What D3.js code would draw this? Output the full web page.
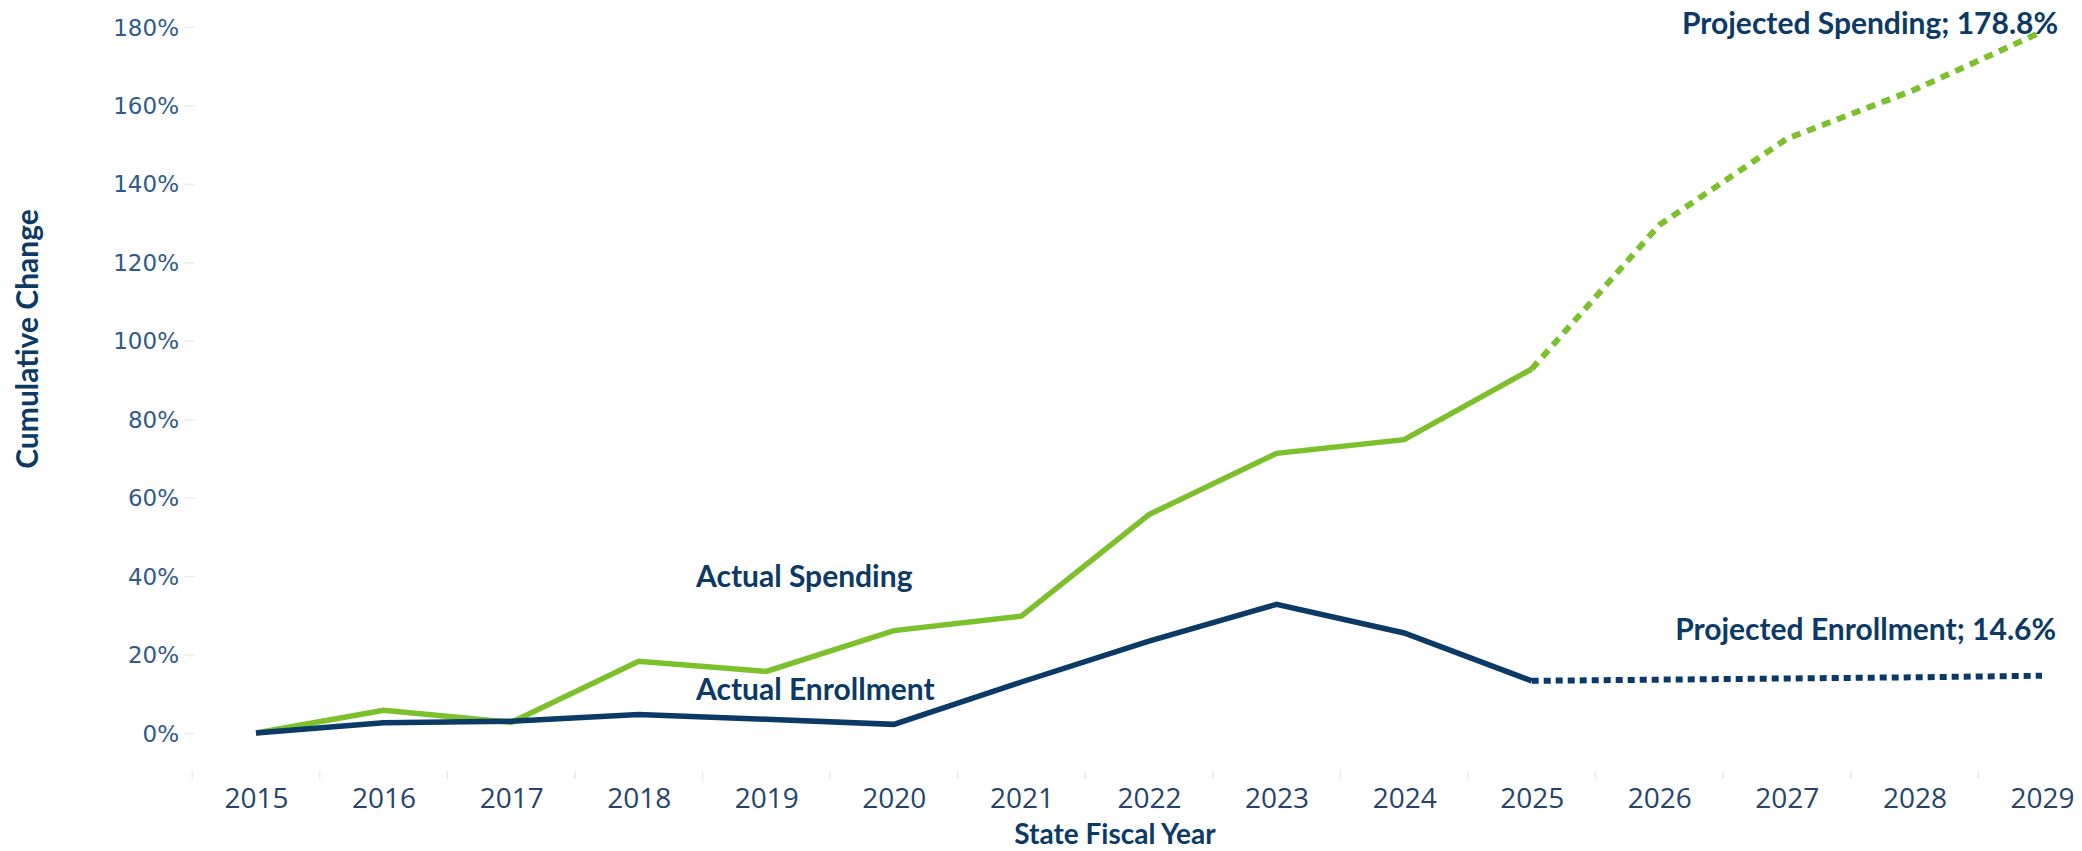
<!DOCTYPE html>
<html><head><meta charset="utf-8">
<script src="https://cdn.jsdelivr.net/npm/d3@7"></script>
<style>
html,body{margin:0;padding:0;background:#fff;}
svg{display:block;}
</style></head>
<body>
<svg id="chart" width="2082" height="851"></svg>
<script>
const years = [2015,2016,2017,2018,2019,2020,2021,2022,2023,2024,2025,2026,2027,2028,2029];
const spending = [0,5.8,2.7,18.3,15.7,26.1,29.8,55.7,71.3,74.8,92.8,129.5,151.5,164.0,178.8];
const enrollment = [0,2.6,3.0,4.7,3.5,2.2,13.0,23.4,32.8,25.5,13.3,13.6,13.9,14.2,14.6];
const lastActualYear = 2025;
const yTicks = [0,20,40,60,80,100,120,140,160,180];
const labels = {
  actualSpending: "Actual Spending",
  actualEnrollment: "Actual Enrollment",
  projSpending: "Projected Spending; 178.8%",
  projEnrollment: "Projected Enrollment; 14.6%"
};

const svg = d3.select("#chart");
const x = d3.scalePoint().domain(years).range([256, 2042]);
const y = d3.scaleLinear().domain([0, 180]).range([733, 27]);
const step = x.step();

const NAVY = "#0b3a66", GREEN = "#7cc02c";

// Y axis
const yAxis = d3.axisLeft(y).tickValues(yTicks).tickFormat(d => d + "%").tickSize(0).tickPadding(0);
const yg = svg.append("g").attr("transform", "translate(179,0)").call(yAxis);
yg.select(".domain").remove();
yg.selectAll("text").attr("font-family", "DejaVu Sans, Verdana, sans-serif").attr("font-size", 23)
  .attr("fill", "#2f5b8c").attr("dy", "0.35em");
yg.selectAll(".tick").append("line").attr("x1", 5).attr("x2", 16).attr("stroke", "#ececec").attr("stroke-width", 1.5);

// X axis
const xAxis = d3.axisBottom(x).tickSize(0).tickPadding(0);
const xg = svg.append("g").attr("transform", "translate(0,798)").call(xAxis);
xg.select(".domain").remove();
xg.selectAll("text").attr("font-family", "'Liberation Sans Narrow', 'Open Sans', sans-serif")
  .attr("font-size", 28).attr("fill", "#24446d").attr("dy", "0.35em");
// separator ticks between categories
const seps = years.map(v => x(v) - step / 2).concat([x(years[years.length - 1]) + step / 2]);
svg.append("g").selectAll("line").data(seps).join("line")
  .attr("x1", d => d).attr("x2", d => d).attr("y1", 771).attr("y2", 779)
  .attr("stroke", "#e8e8e8").attr("stroke-width", 1.5);

// Lines
const line = d3.line().x(d => x(d.year)).y(d => y(d.v));
function series(vals) { return years.map((yr, i) => ({ year: yr, v: vals[i] })); }
const sp = series(spending), en = series(enrollment);
const actual = d => d.year <= lastActualYear;
const proj = d => d.year >= lastActualYear;

svg.append("path").datum(sp.filter(proj)).attr("d", line).attr("fill", "none")
  .attr("stroke", GREEN).attr("stroke-width", 6).attr("stroke-dasharray", "9,7");
svg.append("path").datum(en.filter(proj)).attr("d", line).attr("fill", "none")
  .attr("stroke", NAVY).attr("stroke-width", 6).attr("stroke-dasharray", "7,5");
svg.append("path").datum(sp.filter(actual)).attr("d", line).attr("fill", "none")
  .attr("stroke", GREEN).attr("stroke-width", 5.5).attr("stroke-linejoin", "miter");
svg.append("path").datum(en.filter(actual)).attr("d", line).attr("fill", "none")
  .attr("stroke", NAVY).attr("stroke-width", 5.5).attr("stroke-linejoin", "miter");

// Annotations
const ann = svg.append("g").attr("font-family", "Lato, 'Open Sans', sans-serif").attr("font-weight", "bold")
  .attr("font-size", 30).attr("fill", NAVY);
ann.append("text").attr("x", 696).attr("y", 576).attr("dy", "0.35em").text(labels.actualSpending);
ann.append("text").attr("x", 696).attr("y", 689).attr("dy", "0.35em").text(labels.actualEnrollment);
ann.append("text").attr("x", 2058).attr("y", 23).attr("dy", "0.35em").attr("text-anchor", "end").text(labels.projSpending);
ann.append("text").attr("x", 2056).attr("y", 629).attr("dy", "0.35em").attr("text-anchor", "end").text(labels.projEnrollment);

// Axis titles
svg.append("text").attr("x", 1115).attr("y", 834).attr("dy", "0.35em").attr("text-anchor", "middle")
  .attr("font-family", "Lato, 'Open Sans', sans-serif").attr("font-weight", "bold").attr("font-size", 28)
  .attr("fill", NAVY).text("State Fiscal Year");
svg.append("text").attr("transform", "translate(27,339) rotate(-90)").attr("dy", "0.35em").attr("text-anchor", "middle")
  .attr("font-family", "Lato, 'Open Sans', sans-serif").attr("font-weight", "bold").attr("font-size", 30)
  .attr("fill", NAVY).text("Cumulative Change");
</script>
</body></html>
